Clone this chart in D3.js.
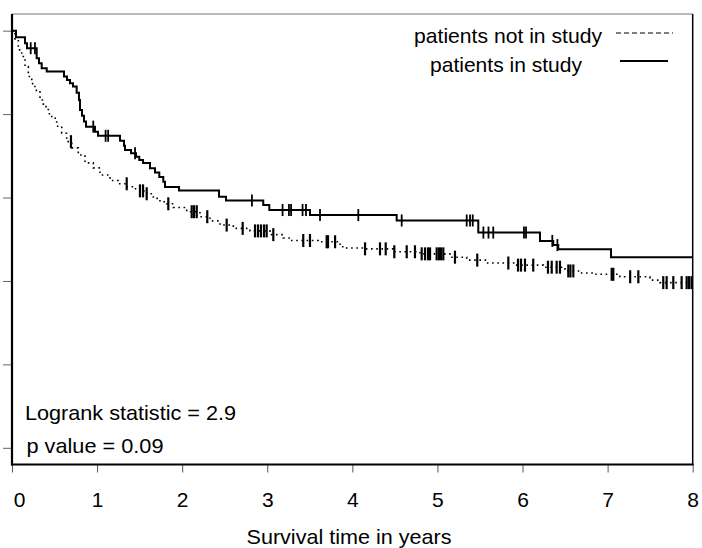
<!DOCTYPE html>
<html>
<head>
<meta charset="utf-8">
<script src="https://cdn.jsdelivr.net/npm/d3@7"></script>
<style>
  html, body { margin: 0; padding: 0; background: #fff; }
  svg { display: block; font-family: "Liberation Sans", Arial, sans-serif; }
</style>
</head>
<body>
<svg id="chart" width="702" height="548"></svg>
<script>
// Kaplan-Meier estimates: step times (years) and survival after each step
const inStudyTimes = [0, 0.047, 0.153, 0.176, 0.290, 0.317, 0.349, 0.408, 0.611, 0.646, 0.682, 0.717,
  0.760, 0.787, 0.799, 0.823, 0.846, 0.870, 0.975, 1.011, 1.269, 1.316, 1.328, 1.399, 1.457, 1.496,
  1.540, 1.622, 1.681, 1.731, 1.778, 1.798, 1.963, 2.433, 2.515, 2.953, 3.024, 3.502, 4.521, 5.480,
  6.205, 6.361, 6.420, 7.040];
const inStudySurv = [1.0, 0.984, 0.970, 0.958, 0.934, 0.922, 0.910, 0.902, 0.890, 0.882, 0.874, 0.866,
  0.851, 0.834, 0.810, 0.796, 0.782, 0.770, 0.758, 0.748, 0.736, 0.724, 0.714, 0.706, 0.698, 0.690,
  0.683, 0.670, 0.660, 0.649, 0.638, 0.625, 0.617, 0.602, 0.593, 0.582, 0.570, 0.558, 0.545, 0.516,
  0.496, 0.486, 0.476, 0.457];
const inStudyCensored = [0.22, 0.27, 0.955, 1.10, 1.13, 1.446, 2.82, 3.18, 3.255, 3.28, 3.415, 3.455,
  3.62, 4.07, 4.58, 5.344, 5.383, 5.415, 5.54, 5.60, 5.656, 6.017, 6.041, 6.35, 6.41];

const notInStudyTimes = [0, 0.035, 0.074, 0.114, 0.153, 0.192, 0.232, 0.270, 0.329, 0.368, 0.427,
  0.467, 0.525, 0.584, 0.643, 0.702, 0.779, 0.858, 0.955, 1.034, 1.152, 1.249, 1.352, 1.426, 1.504,
  1.583, 1.661, 1.739, 1.818, 1.896, 2.053, 2.209, 2.327, 2.444, 2.601, 2.797, 3.032, 3.188, 3.267,
  3.600, 3.855, 3.933, 4.129, 4.481, 4.795, 5.147, 5.344, 5.579, 5.911, 6.244, 6.499, 6.675, 6.832,
  7.145, 7.497, 7.615];
const notInStudySurv = [1.0, 0.978, 0.954, 0.938, 0.914, 0.890, 0.873, 0.857, 0.834, 0.818, 0.801,
  0.790, 0.771, 0.754, 0.734, 0.719, 0.702, 0.683, 0.671, 0.654, 0.641, 0.633, 0.626, 0.621, 0.616,
  0.609, 0.598, 0.590, 0.585, 0.576, 0.566, 0.554, 0.544, 0.534, 0.526, 0.520, 0.511, 0.503, 0.497,
  0.494, 0.482, 0.479, 0.477, 0.470, 0.465, 0.457, 0.450, 0.443, 0.438, 0.433, 0.424, 0.419, 0.416,
  0.410, 0.402, 0.396];
const notInStudyCensored = [0.693, 1.348, 1.504, 1.54, 1.583, 1.837, 2.112, 2.139, 2.171, 2.295, 2.523,
  2.711, 2.856, 2.891, 2.926, 2.962, 2.993, 3.071, 3.423, 3.502, 3.698, 3.714, 3.797, 4.149, 4.325,
  4.392, 4.493, 4.639, 4.736, 4.815, 4.854, 4.889, 4.913, 4.991, 5.018, 5.042, 5.069, 5.206, 5.468,
  5.833, 5.947, 5.982, 6.029, 6.126, 6.299, 6.343, 6.401, 6.44, 6.538, 6.563, 6.597, 7.048, 7.067,
  7.265, 7.361, 7.654, 7.694, 7.772, 7.87, 7.929, 7.956, 7.986];

const xTicks = [0, 1, 2, 3, 4, 5, 6, 7, 8];
const yTicks = [0, 0.2, 0.4, 0.6, 0.8, 1.0];
const legendLabels = ["patients not in study", "patients in study"];
const statLabels = ["Logrank statistic = 2.9", "p value = 0.09"];
const xTitle = "Survival time in years";

const svg = d3.select("#chart");
const plotLeft = 12, plotRight = 692.7, plotTop = 14, plotBottom = 464.5;

const x = d3.scaleLinear().domain([0, 8]).range([plotLeft, plotRight]);
const y = d3.scaleLinear().domain([-0.04, 1.04]).range([plotBottom, plotTop]);

// frame: grey top edge, black right edge
svg.append("line").attr("x1", plotLeft).attr("x2", plotRight).attr("y1", plotTop).attr("y2", plotTop)
  .attr("stroke", "#777").attr("stroke-width", 1.2);
svg.append("line").attr("x1", plotRight).attr("x2", plotRight).attr("y1", plotTop).attr("y2", plotBottom)
  .attr("stroke", "#000").attr("stroke-width", 1.5);

// y axis (unlabelled ticks)
const yAxis = svg.append("g").attr("transform", `translate(${plotLeft},0)`)
  .call(d3.axisLeft(y).tickValues(yTicks).tickSize(9).tickFormat(""));
yAxis.select(".domain").remove();
yAxis.selectAll(".tick line").attr("stroke", "#666").attr("stroke-width", 1);
svg.append("line").attr("x1", plotLeft).attr("x2", plotLeft).attr("y1", plotTop).attr("y2", plotBottom + 1)
  .attr("stroke", "#000").attr("stroke-width", 2.2);

// x axis
const xAxis = svg.append("g").attr("transform", `translate(0,${plotBottom})`)
  .call(d3.axisBottom(x).tickValues(xTicks).tickSize(8).tickPadding(20).tickFormat(d3.format("d")));
xAxis.select(".domain").remove();
xAxis.selectAll(".tick line").attr("stroke", "#555").attr("stroke-width", 1);
xAxis.selectAll(".tick text")
  .attr("font-size", 21).attr("fill", "#000")
  .attr("font-family", "Liberation Sans, Arial, sans-serif")
  .attr("dx", d => d === 0 ? 7 : 0);
svg.append("line").attr("x1", plotLeft - 1).attr("x2", plotRight + 1).attr("y1", plotBottom).attr("y2", plotBottom)
  .attr("stroke", "#000").attr("stroke-width", 2.2);

svg.append("text").attr("x", 349).attr("y", 544).attr("text-anchor", "middle")
  .attr("font-size", 21).attr("textLength", 205).attr("lengthAdjust", "spacingAndGlyphs")
  .text(xTitle);

// survival curves
function stepLine(times, surv) {
  const pts = times.map((t, i) => [t, surv[i]]);
  pts.push([8, surv[surv.length - 1]]);
  return d3.line().x(d => x(d[0])).y(d => y(d[1])).curve(d3.curveStepAfter)(pts);
}
function survAt(times, surv, t) {
  return surv[Math.max(0, d3.bisectRight(times, t) - 1)];
}

svg.append("path").attr("d", stepLine(notInStudyTimes, notInStudySurv))
  .attr("fill", "none").attr("stroke", "#000").attr("stroke-width", 1.6)
  .attr("stroke-dasharray", "1.6,3.6");
svg.append("path").attr("d", stepLine(inStudyTimes, inStudySurv))
  .attr("fill", "none").attr("stroke", "#000").attr("stroke-width", 2);

// censoring marks
svg.append("g").selectAll("line").data(notInStudyCensored).join("line")
  .attr("x1", d => x(d)).attr("x2", d => x(d))
  .attr("y1", d => y(survAt(notInStudyTimes, notInStudySurv, d)) - 6.5)
  .attr("y2", d => y(survAt(notInStudyTimes, notInStudySurv, d)) + 6.5)
  .attr("stroke", "#000").attr("stroke-width", 2.2);
svg.append("g").selectAll("line").data(inStudyCensored).join("line")
  .attr("x1", d => x(d)).attr("x2", d => x(d))
  .attr("y1", d => y(survAt(inStudyTimes, inStudySurv, d)) - 6)
  .attr("y2", d => y(survAt(inStudyTimes, inStudySurv, d)) + 6)
  .attr("stroke", "#000").attr("stroke-width", 1.8);

// legend
svg.append("text").attr("x", 602).attr("y", 42.5).attr("text-anchor", "end")
  .attr("font-size", 21).attr("textLength", 188).attr("lengthAdjust", "spacingAndGlyphs")
  .text(legendLabels[0]);
svg.append("text").attr("x", 582).attr("y", 71.5).attr("text-anchor", "end")
  .attr("font-size", 21).attr("textLength", 152).attr("lengthAdjust", "spacingAndGlyphs")
  .text(legendLabels[1]);
svg.append("line").attr("x1", 616).attr("x2", 673).attr("y1", 33).attr("y2", 33)
  .attr("stroke", "#000").attr("stroke-width", 1.2).attr("stroke-dasharray", "5,3");
svg.append("line").attr("x1", 620).attr("x2", 668).attr("y1", 61).attr("y2", 61)
  .attr("stroke", "#000").attr("stroke-width", 2);

// test statistics
svg.append("text").attr("x", 25).attr("y", 419.5)
  .attr("font-size", 21).attr("textLength", 211).attr("lengthAdjust", "spacingAndGlyphs")
  .text(statLabels[0]);
svg.append("text").attr("x", 26.5).attr("y", 452.5)
  .attr("font-size", 21).attr("textLength", 137).attr("lengthAdjust", "spacingAndGlyphs")
  .text(statLabels[1]);
</script>
</body>
</html>
